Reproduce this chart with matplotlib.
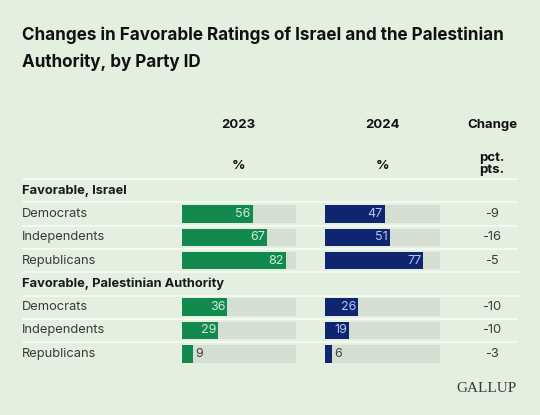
import matplotlib
matplotlib.use('Agg')
import matplotlib.pyplot as plt

# data
groups = ['Favorable, Israel', 'Favorable, Palestinian Authority']
parties = ['Democrats', 'Independents', 'Republicans']
fav_2023 = [[56, 67, 82], [36, 29, 9]]
fav_2024 = [[47, 51, 77], [26, 19, 6]]
change = [[-9, -16, -5], [-10, -10, -3]]

BG = '#E3F0E0'
GREEN = '#128A4D'
NAVY = '#0F2570'
TRACK = '#D4DED3'

plt.rcParams['font.family'] = ['Inter', 'DejaVu Sans']

W, H = 540, 415
fig = plt.figure(figsize=(W / 100, H / 100), dpi=100, facecolor=BG)

# base axes in pixel coords for text and separators
base = fig.add_axes([0, 0, 1, 1])
base.set_xlim(0, W)
base.set_ylim(H, 0)
base.axis('off')

base.text(22, 35, 'Changes in Favorable Ratings of Israel and the Palestinian',
          fontsize=12.3, fontweight='bold', color='#111', va='center')
base.text(22, 62, 'Authority, by Party ID',
          fontsize=12.3, fontweight='bold', color='#111', va='center')

col23 = (181.5, 296.0)
col24 = (324.7, 440.0)
chg_x = 492
vmax = 90

for (x0, x1), yr in [(col23, '2023'), (col24, '2024')]:
    cx = (x0 + x1) / 2
    base.text(cx, 125, yr, fontsize=9.5, fontweight='bold', color='#111',
              ha='center', va='center')
    base.text(cx, 166, '%', fontsize=9.5, fontweight='bold', color='#111',
              ha='center', va='center')
base.text(chg_x, 125, 'Change', fontsize=9.5, fontweight='bold', color='#111',
          ha='center', va='center')
base.text(chg_x, 163.5, 'pct.\npts.', fontsize=9.5, fontweight='bold', color='#111',
          ha='center', va='center', linespacing=1.0)

# row layout
step = 23.3
top = 179.0
row_y = []
header_y = []
y = top
seps = [y]
for g in groups:
    header_y.append(y + step / 2)
    y += step
    seps.append(y)
    ys = []
    for p in parties:
        ys.append(y + step / 2)
        y += step
        seps.append(y)
    row_y.append(ys)

for s in seps[:-1]:
    base.plot([22, 518], [s, s], color='#F4FAF2', lw=1.4, solid_capstyle='butt')

for gi, g in enumerate(groups):
    base.text(22, header_y[gi], g, fontsize=9.3, fontweight='bold', color='#1a1a1a',
              va='center')
    for pi, p in enumerate(parties):
        yy = row_y[gi][pi]
        base.text(22, yy, p, fontsize=9.3, color='#3a3a3a', va='center')
        base.text(chg_x, yy, str(change[gi][pi]), fontsize=9.3, color='#3a3a3a',
                  ha='center', va='center')

# bar axes
def bar_axes(x0, x1):
    ax = fig.add_axes([x0 / W, 0, (x1 - x0) / W, 1])
    ax.set_xlim(0, vmax)
    ax.set_ylim(H, 0)
    ax.axis('off')
    ax.patch.set_alpha(0)
    return ax

bh = 17.5
for (x0, x1), vals, color, inner in [(col23, fav_2023, GREEN, '#CFEBDB'),
                                     (col24, fav_2024, NAVY, '#B9C6EE')]:
    ax = bar_axes(x0, x1)
    for gi in range(len(groups)):
        ys = row_y[gi]
        v = vals[gi]
        ax.barh(ys, [vmax] * len(v), height=bh, color=TRACK, left=0)
        ax.barh(ys, v, height=bh, color=color, left=0)
        for yy, val in zip(ys, v):
            if val >= 15:
                ax.text(val - 1.5, yy, str(val), fontsize=9, color=inner,
                        ha='right', va='center')
            else:
                ax.text(val + 1.5, yy, str(val), fontsize=9, color='#444',
                        ha='left', va='center')

base.text(517, 388, 'GALLUP', fontsize=11, color='#3a3a3a', ha='right', va='center',
          family=['Liberation Serif', 'DejaVu Serif'])

fig.savefig('out.png', dpi=100, facecolor=BG)
